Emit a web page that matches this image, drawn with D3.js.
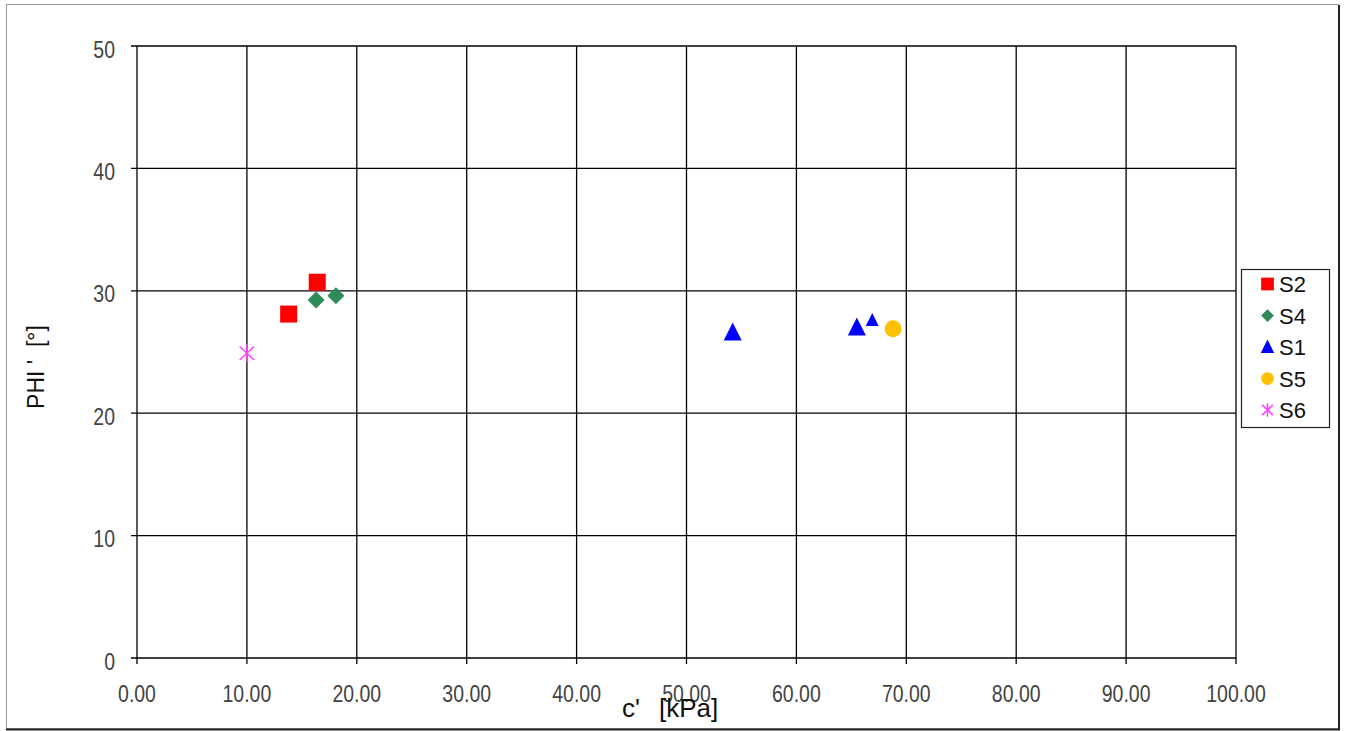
<!DOCTYPE html>
<html><head><meta charset="utf-8">
<script src="https://cdn.jsdelivr.net/npm/d3@7"></script>
<style>body{margin:0;background:#fff}svg{display:block}text{font-family:"Liberation Sans",Arial,sans-serif}</style>
</head><body><svg id="c" width="1347" height="731"></svg>
<script>
const xTicks = [0,10,20,30,40,50,60,70,80,90,100];
const yTicks = [0,10,20,30,40,50];
const seriesNames = ["S2","S4","S1","S5","S6"];
const S2 = [[13.8,28.1],[16.4,30.7]];
const S4 = [[16.3,29.25],[18.1,29.6]];
const S1 = [[54.2,26.6],[65.5,27.0],[66.9,27.6]];
const S5 = [[68.8,26.9]];
const S6 = [[10.0,24.9]];
const seriesData = [S2,S4,S1,S5,S6];
const colors = ["#ff0000","#2e8b57","#0000ff","#ffc000","#ff44ff"];
const shapes = ["square","diamond","triangle","circle","star"];

const svg = d3.select("#c");
svg.append("rect").attr("x",6.5).attr("y",4.5).attr("width",1332).attr("height",724)
  .attr("fill","#fff").attr("stroke","#999").attr("stroke-width",1);
svg.append("line").attr("x1",1339).attr("x2",1339).attr("y1",5).attr("y2",730).attr("stroke","#222").attr("stroke-width",2);
svg.append("line").attr("x1",6).attr("x2",1340).attr("y1",729.5).attr("y2",729.5).attr("stroke","#222").attr("stroke-width",2);

const x = d3.scaleLinear().domain([0,100]).range([137,1236]);
const y = d3.scaleLinear().domain([0,50]).range([658,46]);

// grid
svg.append("g").selectAll("line").data(xTicks).join("line")
  .attr("x1",d=>x(d)).attr("x2",d=>x(d)).attr("y1",y(50)).attr("y2",y(0)+6)
  .attr("stroke","#000").attr("stroke-width",1.3);
svg.append("g").selectAll("line").data(yTicks).join("line")
  .attr("x1",x(0)-6).attr("x2",x(100)).attr("y1",d=>y(d)).attr("y2",d=>y(d))
  .attr("stroke","#000").attr("stroke-width",1.3);

svg.append("g").selectAll("text").data(xTicks).join("text")
  .attr("transform",d=>`translate(${x(d)},702) scale(1,1.2)`).attr("text-anchor","middle")
  .attr("font-size",19.5).attr("fill","#444").text(d=>d.toFixed(2));
svg.append("g").selectAll("text").data(yTicks).join("text")
  .attr("transform",d=>`translate(115,${y(d)+11.5}) scale(1,1.2)`).attr("text-anchor","end")
  .attr("font-size",19.5).attr("fill","#444").text(d=>d);

svg.append("text").attr("x",622).attr("y",717)
  .attr("font-size",26).attr("fill","#111").text("c'");
svg.append("text").attr("x",659).attr("y",717)
  .attr("font-size",26).attr("fill","#111").text("[kPa]");
svg.append("text").attr("transform","translate(44,367) rotate(-90)").attr("text-anchor","middle")
  .attr("font-size",23).attr("fill","#111").attr("xml:space","preserve").text("PHI '  [°]");

function drawMarker(g, shape, color, cx, cy, s){
  if(shape==="square") g.append("rect").attr("x",cx-8.5*s).attr("y",cy-8.5*s).attr("width",17*s).attr("height",17*s).attr("fill",color);
  else if(shape==="diamond") g.append("path").attr("d",`M${cx},${cy-8.5*s}L${cx+8.5*s},${cy}L${cx},${cy+8.5*s}L${cx-8.5*s},${cy}Z`).attr("fill",color);
  else if(shape==="triangle") g.append("path").attr("d",`M${cx},${cy-10*s}L${cx+9*s},${cy+8*s}L${cx-9*s},${cy+8*s}Z`).attr("fill",color);
  else if(shape==="circle") g.append("circle").attr("cx",cx).attr("cy",cy).attr("r",8.5*s).attr("fill",color);
  else if(shape==="star"){
    const r=9*s;
    g.append("path").attr("d",`M${cx-r*0.8},${cy-r*0.75}L${cx+r*0.8},${cy+r*0.75}M${cx+r*0.8},${cy-r*0.75}L${cx-r*0.8},${cy+r*0.75}M${cx},${cy-r}L${cx},${cy+r}`)
      .attr("stroke",color).attr("stroke-width",1.6).attr("fill","none");
  }
}
const mg = svg.append("g");
seriesData.forEach((data,i)=>{
  data.forEach((p,j)=>{
    const s = (shapes[i]==="triangle" && j===2) ? 0.72 : 1;
    drawMarker(mg, shapes[i], colors[i], x(p[0]), y(p[1]), s);
  });
});

// legend
const lg = svg.append("g");
lg.append("rect").attr("x",1241.5).attr("y",269.5).attr("width",88).attr("height",158)
  .attr("fill","#fff").attr("stroke","#222").attr("stroke-width",1.2);
seriesNames.forEach((n,i)=>{
  const cy = 284 + i*31.5;
  drawMarker(lg, shapes[i], colors[i], 1267.5, cy, 0.75);
  lg.append("text").attr("x",1279).attr("y",cy+8).attr("font-size",22).attr("fill","#111").text(n);
});
</script></body></html>
